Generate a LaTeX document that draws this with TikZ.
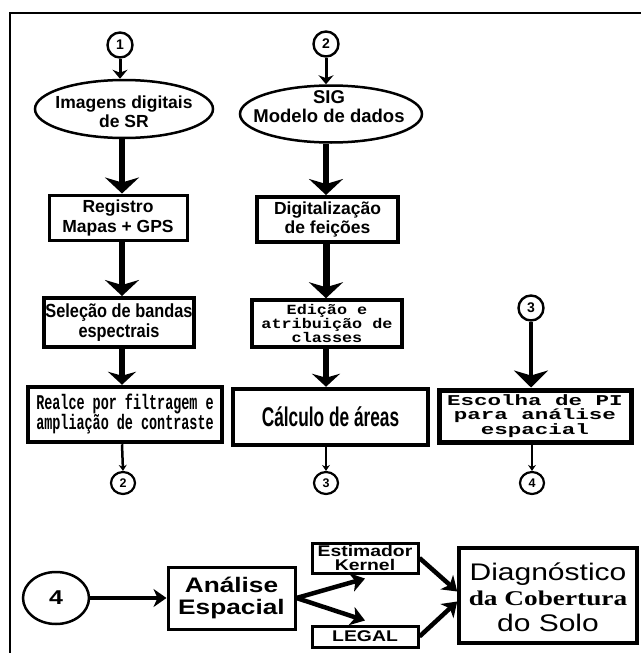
\documentclass[tikz,border=0pt]{standalone}
\usepackage{fontspec}
\setmainfont{Liberation Sans}
\newfontfamily\narrowfont{Liberation Sans}[FakeStretch=0.86]
\newfontfamily\condfont{Liberation Sans}[FakeStretch=0.64]
\newfontfamily\monoN{Liberation Mono}[FakeStretch=0.64]
\newfontfamily\monoE{Liberation Mono}[FakeStretch=1.2]
\newfontfamily\monoW{Liberation Mono}[FakeStretch=1.5]
\newfontfamily\wideS{Liberation Sans}[FakeStretch=1.25]
\newfontfamily\wideSerif{Liberation Serif}[FakeStretch=1.3]
\usetikzlibrary{arrows.meta,shapes.geometric}
\begin{document}
\begin{tikzpicture}[x=1pt,y=-1pt,
  box/.style={draw, line width=3.5pt, inner sep=0pt, align=center},
  ell/.style={draw, ellipse, line width=2.5pt, inner sep=0pt},
  num/.style={draw, circle, line width=2.4pt, inner sep=0pt, minimum size=25pt,
    font=\bfseries\fontsize{14}{14}\selectfont},
  lownum/.style={draw, ellipse, line width=2.2pt, inner sep=0pt, minimum width=24pt,
    minimum height=22pt, font=\bfseries\fontsize{12.5}{12.5}\selectfont},
  txt/.style={inner sep=0pt, align=center},
  bigarrow/.style={line width=6pt, -{Stealth[length=16pt,width=34pt,inset=5pt]}},
  midarrow/.style={line width=5pt, -{Stealth[length=13pt,width=28pt,inset=4pt]}},
  smallarrow/.style={line width=3pt, -{Stealth[length=9pt,width=15pt,inset=3pt]}},
  tinyarrow/.style={line width=2.5pt, -{Stealth[length=6pt,width=8pt,inset=2pt]}},
  botarrow/.style={line width=4.5pt, -{Stealth[length=14pt,width=19pt,inset=4pt]}}
]
\useasboundingbox (0,0) rectangle (641,653);
\draw[line width=2.5pt] (10,653) -- (10,13) -- (641,13);

\coordinate (c1) at (122,0);
\coordinate (c2) at (326,0);

% column 1
\node[num] (n1) at (120,45) {1};
\node[ell, minimum width=178pt, minimum height=58pt] (img) at (124,109) {};
\node[txt, font=\bfseries\fontsize{17.5}{19}\selectfont] (imgt) at (124,112) {Imagens digitais\\de SR};
\node[box, line width=3pt, minimum width=138pt, minimum height=45pt,
  font=\bfseries\fontsize{17.5}{20}\selectfont] (reg) at (118,217.5) {Registro\\Mapas + GPS};
\node[box, line width=4pt, minimum width=150pt, minimum height=49pt,
  font=\narrowfont\bfseries\fontsize{19}{20}\selectfont] (sel) at (119,322.5) {Seleção de bandas\\espectrais};
\node[box, line width=4.5pt, minimum width=194pt, minimum height=55pt,
  font=\monoN\bfseries\fontsize{21}{20}\selectfont] (rea) at (125,414.5) {Realce por filtragem e\\ampliação de contraste};
\node[lownum] (m2) at (123,483) {2};

\draw[smallarrow] (n1) -- (n1 |- img.north);
\draw[bigarrow] (c1 |- img.south) -- (c1 |- reg.north);
\draw[bigarrow] (c1 |- reg.south) -- (c1 |- sel.north);
\draw[midarrow, line width=6pt] (c1 |- sel.south) -- (c1 |- rea.north);
\draw[tinyarrow] (c1 |- rea.south) -- (m2.north);

% column 2
\node[num] (n2) at (326,44) {2};
\node[ell, minimum width=182pt, minimum height=57pt] (sig) at (331,114) {};
\node[txt, font=\bfseries\fontsize{18.5}{19}\selectfont] (sigt) at (329,107) {SIG\\Modelo de dados};
\node[box, line width=4pt, minimum width=141pt, minimum height=45pt,
  font=\bfseries\fontsize{17.5}{19}\selectfont] (dig) at (327.5,219.5) {Digitalização\\de feições};
\node[box, line width=3.5pt, minimum width=150pt, minimum height=47pt,
  font=\monoE\bfseries\fontsize{14}{12.8}\selectfont] (edi) at (327,323.5) {Edição e\\atribuição de\\classes};
\node[box, line width=4.5pt, minimum width=195pt, minimum height=56pt,
  font=\condfont\bfseries\fontsize{27}{27}\selectfont] (cal) at (330.5,417) {Cálculo de áreas};
\node[lownum] (m3) at (326,483) {3};

\draw[smallarrow] (n2) -- (n2 |- sig.north);
\draw[bigarrow] (c2 |- sig.south) -- (c2 |- dig.north);
\draw[bigarrow, line width=7pt] (c2 |- dig.south) -- (c2 |- edi.north);
\draw[midarrow, line width=6pt] (c2 |- edi.south) -- (c2 |- cal.north);
\draw[tinyarrow] (c2 |- cal.south) -- (m3.north);

% column 3
\node[num] (n3) at (531,308) {3};
\node[box, line width=5pt, minimum width=192pt, minimum height=52pt,
  font=\monoW\bfseries\fontsize{15}{14.5}\selectfont] (esc) at (535,416) {Escolha de PI\\para análise\\espacial};
\node[lownum] (m4) at (532,483) {4};

\draw[line width=4.5pt, -{Stealth[length=17pt,width=34pt,inset=5pt]}] (n3) -- (n3 |- esc.north);
\draw[tinyarrow] (m4 |- esc.south) -- (m4.north);

% bottom row
\node[ell, minimum width=66pt, minimum height=52pt,
  font=\wideS\bfseries\fontsize{20}{20}\selectfont] (big4) at (56,598) {4};
\node[box, line width=3pt, minimum width=127pt, minimum height=62pt,
  font=\wideS\bfseries\fontsize{21}{22}\selectfont] (ana) at (231.5,598) {Análise\\Espacial};
\node[box, line width=3pt, minimum width=106pt, minimum height=30pt,
  font=\wideS\bfseries\fontsize{15.5}{14}\selectfont] (est) at (365,558) {Estimador\\Kernel};
\node[box, line width=3pt, minimum width=106pt, minimum height=21pt,
  font=\wideS\bfseries\fontsize{15.5}{14}\selectfont] (leg) at (365,636.5) {LEGAL};
\node[box, line width=3.5pt, minimum width=178pt, minimum height=95pt] (dia) at (548,595.5) {};
\node[txt, font=\fontsize{24}{25.5}\selectfont] (diat) at (548,597) {{\wideS Diagnóstico}\\
  {\wideSerif\bfseries\fontsize{21}{25.5}\selectfont da Cobertura}\\
  {\wideS do Solo}};

\draw[line width=4pt, -{Stealth[length=13pt,width=18pt,inset=4pt]}] (big4.east) -- (ana.west);
\draw[botarrow] (ana.east) -- ([yshift=-4pt]est.south);
\draw[botarrow] (ana.east) -- ([yshift=4pt]leg.north);
\draw[botarrow] (est.east) -- ([yshift=4pt]dia.west);
\draw[botarrow] (leg.east) -- ([yshift=-6pt]dia.west);
\end{tikzpicture}
\end{document}
